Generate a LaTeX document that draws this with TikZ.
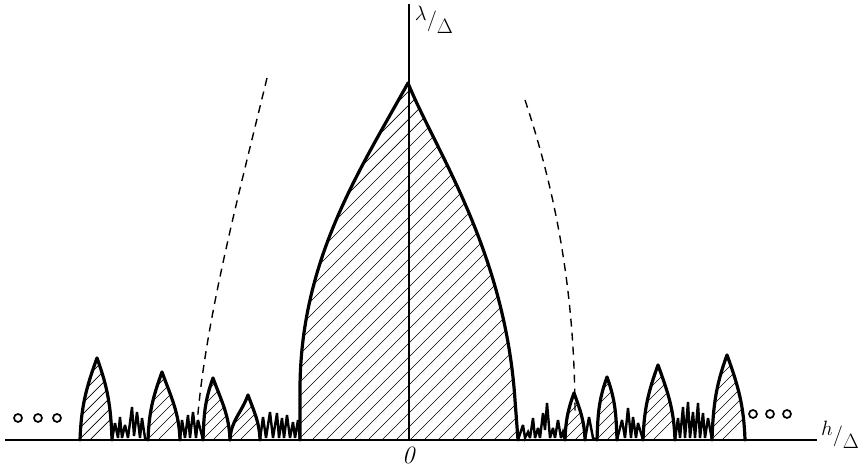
\documentclass[tikz,border=0pt]{standalone}
\usepackage{amsmath}
\usetikzlibrary{calc}
\tikzset{
  lobe/.style={line width=3.2pt, line join=round, line cap=round},
  grass/.style={line width=2.4pt, line join=miter, miter limit=4},
  hatch/.style={line width=0.7pt},
  guide/.style={line width=1.4pt, dash pattern=on 8pt off 6pt},
  axis/.style={line width=1.2pt},
  dotmark/.style={circle, draw, line width=1.7pt, minimum size=8pt, inner sep=0pt},
  axlabel/.style={font=\huge, inner sep=0pt}
}
% small hatched lobe: left x, peak x, peak y, right x
\newcommand{\hlobe}[4]{%
  \begin{scope}
    \clip (#1,30) to[out=88,in=-110] (#2,#3) to[out=-70,in=92] (#4,30) -- cycle;
    \foreach \s in {-100,-89,...,20} \draw[hatch] (#1+\s,30) -- ++(120,120);
  \end{scope}
  \draw[lobe] (#1,30) to[out=88,in=-110] (#2,#3) to[out=-70,in=92] (#4,30);
}
\newcommand{\slashlabel}[2]{\raisebox{6pt}{$#1$}$/$\raisebox{-7pt}{$#2$}}

\begin{document}
\begin{tikzpicture}[x=1pt, y=1pt]
  \useasboundingbox (0,0) rectangle (860,470);

  % axes
  \coordinate (O) at (409,30);
  \coordinate (xl) at (5,30);
  \coordinate (xr) at (817,30);
  \coordinate (yt) at (409,466);
  \draw[axis] (xl) -- (xr);
  \draw[axis] (O) -- (yt);
  \node[axlabel] (lamlabel) at (434,450) {\slashlabel{\lambda}{\Delta}};
  \node[axlabel] (hlabel) at (840,35) {\slashlabel{h}{\Delta}};
  \node[font=\Huge, below=3pt] (origin) at (O) {\textit{0}};

  % central lobe
  \begin{scope}
    \clip (300,30) -- (300,80) .. controls (300,210) and (360,300) .. (408,387)
      .. controls (435,320) and (505,220) .. (515,70) -- (518,30) -- cycle;
    \foreach \s in {-500,-486,...,560} \draw[hatch] (\s,30) -- ++(400,400);
  \end{scope}
  \draw[lobe] (300,30) -- (300,80) .. controls (300,210) and (360,300) .. (408,387)
      .. controls (435,320) and (505,220) .. (515,70) -- (518,30);

  % dashed guides
  \coordinate (gl1) at (267,392);
  \coordinate (gl2) at (197,45);
  \coordinate (gr1) at (525,370);
  \coordinate (gr2) at (575,55);
  \draw[guide] (gl1) .. controls (240,280) and (205,150) .. (gl2);
  \draw[guide] (gr1) .. controls (555,280) and (575,180) .. (gr2);

  % side lobes
  \hlobe{80}{97}{112}{112}
  \hlobe{148}{162}{98}{180}
  \hlobe{203}{213}{92}{230}
  \hlobe{230}{248}{75}{260}
  \hlobe{565}{574}{77}{585}
  \hlobe{597}{607}{93}{617}
  \hlobe{643}{658}{105}{675}
  \hlobe{712}{727}{115}{745}

  % spiky fringe
  \draw[grass] (112,30) -- (115,47) -- (118,32) -- (120,53) -- (122,32) -- (125,45)
    -- (128,32) -- (132,63) -- (134,34) -- (137,58) -- (140,32) -- (142,52) -- (145,32) -- (148,30);
  \draw[grass] (180,30) -- (182,50) -- (185,32) -- (188,55) -- (190,32) -- (193,58)
    -- (196,32) -- (198,50) -- (203,30);
  \draw[grass] (260,30) -- (263,53) -- (266,32) -- (270,58) -- (273,32) -- (277,57)
    -- (279,32) -- (282,52) -- (284,32) -- (287,55) -- (290,32) -- (293,48) -- (295,32) -- (298,50) -- (300,30);
  \draw[grass] (518,30) -- (523,45) -- (525,32) -- (528,38) -- (530,32) -- (533,52)
    -- (535,32) -- (538,42) -- (540,32) -- (543,57) -- (545,40) -- (547,67) -- (550,32)
    -- (553,42) -- (555,32) -- (558,50) -- (561,32) -- (563,38) -- (565,30);
  \draw[grass] (585,30) -- (589,53) -- (593,32) -- (597,30);
  \draw[grass] (617,30) -- (622,50) -- (625,32) -- (628,62) -- (631,32) -- (633,53)
    -- (636,32) -- (638,47) -- (643,30);
  \draw[grass] (675,30) -- (678,52) -- (680,32) -- (683,63) -- (685,32) -- (688,68)
    -- (690,32) -- (693,58) -- (695,32) -- (698,67) -- (700,32) -- (703,57) -- (705,32)
    -- (708,52) -- (712,30);

  % continuation dots
  \node[dotmark] (dl1) at (18,52) {};
  \node[dotmark] (dl2) at (38,52) {};
  \node[dotmark] (dl3) at (57,52) {};
  \node[dotmark] (dr1) at (753,56) {};
  \node[dotmark] (dr2) at (770,56) {};
  \node[dotmark] (dr3) at (787,56) {};
\end{tikzpicture}
\end{document}
